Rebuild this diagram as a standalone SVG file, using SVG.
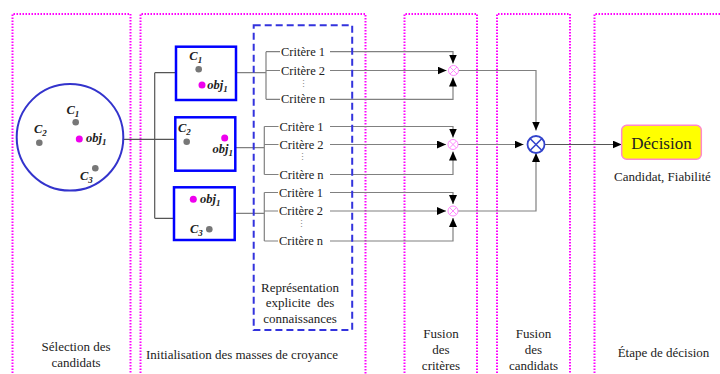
<svg xmlns="http://www.w3.org/2000/svg" width="720" height="374" viewBox="0 0 720 374">
<defs>
<marker id="arr" markerUnits="userSpaceOnUse" markerWidth="9" markerHeight="8" viewBox="0 0 9 8" refX="9" refY="4" orient="auto">
<path d="M0,0 L9,4 L0,8 z" fill="#000"/>
</marker>
</defs>
<style>
.panel{fill:none;stroke:#ff00ff;stroke-width:2;stroke-dasharray:1.5 1.5}
.c{fill:none;stroke:#808080;stroke-width:1.2}
.cd{fill:none;stroke:#555;stroke-width:1.2}
.a{marker-end:url(#arr)}
text{font-family:'Liberation Serif','DejaVu Serif','Noto Serif',serif;fill:#222}
.cr{font-size:12.5px}
.lab{font-size:12.5px;font-weight:bold;font-style:italic}
.sub{font-size:9px}
.vd{font-family:'DejaVu Serif',serif;font-size:9px;fill:#888}
.gd{fill:#777}
.md{fill:#ee00ee}
.bx{fill:#fff;stroke:#0000ff;stroke-width:2.5}
.sn{fill:#fff;stroke:#ff88ff;stroke-width:1}
</style>
<rect width="720" height="374" fill="#fff"/>
<g id="panels">
<path class="panel" d="M12.5,376 V14 H130.5 V376"/>
<path class="panel" d="M140.5,376 V14 H365.5 V376"/>
<path class="panel" d="M404.5,376 V14 H477 V376"/>
<path class="panel" d="M497,376 V14 H570 V376"/>
<path class="panel" d="M594.5,376 V14 H726 V376"/>
</g>
<g id="connectors">
<path class="cd" d="M123.3,139.3 H154.7 M154.7,72.7 V218.3 M154.7,72.7 H176 M154.7,139.3 H175.3 M154.7,218.3 H174"/>
<path class="c" d="M236,72.7 H266 M266,51.7 V99.3 M266,51.7 H280 M266,70.5 H280 M266,99.3 H280"/>
<path class="c" d="M235.3,147.7 H264.3 M264.3,126.5 V174.5 M264.3,126.5 H278.5 M264.3,144.5 H278.5 M264.3,174.5 H278.5"/>
<path class="c" d="M234.7,213.3 H264.3 M264.3,192.5 V241 M264.3,192.5 H278 M264.3,211 H278 M264.3,241 H278"/>
<path class="c a" d="M330,51.7 H453 V63.5"/>
<path class="c a" d="M330,70.5 H446.5"/>
<path class="c a" d="M330,99.3 H453 V77.5"/>
<path class="c a" d="M330,126.5 H453 V137.5"/>
<path class="c a" d="M330,144.5 H446"/>
<path class="c a" d="M330,174.5 H453 V151.5"/>
<path class="c a" d="M330,192.5 H453 V204"/>
<path class="c a" d="M330,211 H446"/>
<path class="c a" d="M330,241 H453 V218"/>
<path class="c a" d="M458.5,70.5 H536 V130.5"/>
<path class="c a" d="M458,144.5 H523.5"/>
<path class="c a" d="M458,211 H536 V153"/>
<path class="cd a" d="M544.5,144.5 H621.7"/>
</g>
<g id="candidates">
<circle cx="70" cy="137.3" r="53.3" fill="#fff" stroke="#3333cc" stroke-width="2"/>
<circle class="gd" cx="75.7" cy="122.3" r="3.3"/>
<text class="lab" x="66.5" y="114">C<tspan class="sub" dy="3">1</tspan></text>
<circle class="gd" cx="39.3" cy="142.7" r="3.3"/>
<text class="lab" x="34" y="133">C<tspan class="sub" dy="3">2</tspan></text>
<circle class="md" cx="79.3" cy="139" r="3.5"/>
<text class="lab" x="86" y="141.5">obj<tspan class="sub" dy="3">1</tspan></text>
<circle class="gd" cx="95.3" cy="168.3" r="3.3"/>
<text class="lab" x="80" y="180">C<tspan class="sub" dy="3">3</tspan></text>
</g>
<g id="box1">
<rect class="bx" x="176" y="46.7" width="60" height="53.3"/>
<text class="lab" x="189.3" y="60">C<tspan class="sub" dy="3">1</tspan></text>
<circle class="gd" cx="198.7" cy="69.3" r="3.3"/>
<circle class="md" cx="202" cy="85" r="3.5"/>
<text class="lab" x="207.3" y="88.5">obj<tspan class="sub" dy="3">1</tspan></text>
</g>
<g id="box2">
<rect class="bx" x="175.3" y="117.3" width="60" height="53.4"/>
<text class="lab" x="178" y="132">C<tspan class="sub" dy="3">2</tspan></text>
<circle class="gd" cx="186.7" cy="141.7" r="3.3"/>
<circle class="md" cx="224.7" cy="138" r="3.5"/>
<text class="lab" x="212.5" y="153">obj<tspan class="sub" dy="3">1</tspan></text>
</g>
<g id="box3">
<rect class="bx" x="174" y="187.3" width="60.7" height="52.7"/>
<circle class="md" cx="193.3" cy="199.3" r="3.5"/>
<text class="lab" x="200" y="203">obj<tspan class="sub" dy="3">1</tspan></text>
<text class="lab" x="190" y="233">C<tspan class="sub" dy="3">3</tspan></text>
<circle class="gd" cx="209.3" cy="229.3" r="3.3"/>
</g>
<g id="representation">
<rect x="253.7" y="25.3" width="98.5" height="304.7" fill="none" stroke="#3333dd" stroke-width="2" stroke-dasharray="7 4"/>
<text class="cr" x="281" y="55.5">Critère 1</text>
<text class="cr" x="281" y="74.5">Critère 2</text>
<text class="vd" x="299" y="87">⋮</text>
<text class="cr" x="281" y="103.3">Critère n</text>
<text class="cr" x="279.5" y="130.5">Critère 1</text>
<text class="cr" x="279.5" y="148.5">Critère 2</text>
<text class="vd" x="298" y="160">⋮</text>
<text class="cr" x="279.5" y="178.5">Critère n</text>
<text class="cr" x="279" y="196.5">Critère 1</text>
<text class="cr" x="279" y="215">Critère 2</text>
<text class="vd" x="296.5" y="227">⋮</text>
<text class="cr" x="279" y="245">Critère n</text>
<text font-size="13" text-anchor="middle" x="300" y="291.5">Représentation</text>
<text font-size="13" text-anchor="middle" x="300" y="306.5" xml:space="preserve">explicite  des</text>
<text font-size="13" text-anchor="middle" x="300" y="323">connaissances</text>
</g>
<g id="fusion-criteria">
<circle class="sn" cx="453.5" cy="70.5" r="5"/>
<path stroke="#ff88ff" stroke-width="1" d="M450,67 L457,74 M457,67 L450,74"/>
<circle class="sn" cx="453" cy="144.5" r="5"/>
<path stroke="#ff88ff" stroke-width="1" d="M449.5,141 L456.5,148 M456.5,141 L449.5,148"/>
<circle class="sn" cx="453" cy="211" r="5"/>
<path stroke="#ff88ff" stroke-width="1" d="M449.5,207.5 L456.5,214.5 M456.5,207.5 L449.5,214.5"/>
</g>
<g id="fusion-candidates">
<circle cx="536" cy="144.5" r="8.5" fill="#fff" stroke="#3344cc" stroke-width="1.8"/>
<path stroke="#3344cc" stroke-width="1.6" d="M530,138.5 L542,150.5 M542,138.5 L530,150.5"/>
</g>
<g id="decision">
<rect x="621.7" y="125.3" width="79.6" height="34" rx="5" fill="#ffff00" stroke="#ff88cc" stroke-width="1.5"/>
<text font-size="17" text-anchor="middle" x="661.5" y="148.5">Décision</text>
<text font-size="13" text-anchor="middle" x="662.5" y="181">Candidat, Fiabilité</text>
</g>
<g id="stage-labels">
<text font-size="13" text-anchor="middle" x="76" y="351">Sélection des</text>
<text font-size="13" text-anchor="middle" x="76" y="367">candidats</text>
<text font-size="13" text-anchor="middle" x="242" y="359">Initialisation des masses de croyance</text>
<text font-size="13" text-anchor="middle" x="441" y="337.5">Fusion</text>
<text font-size="13" text-anchor="middle" x="441" y="353.5">des</text>
<text font-size="13" text-anchor="middle" x="441" y="369.5">critères</text>
<text font-size="13" text-anchor="middle" x="533.5" y="337.5">Fusion</text>
<text font-size="13" text-anchor="middle" x="533.5" y="353.5">des</text>
<text font-size="13" text-anchor="middle" x="533.5" y="369.5">candidats</text>
<text font-size="13" text-anchor="middle" x="663.5" y="357">Étape de décision</text>
</g>
</svg>
